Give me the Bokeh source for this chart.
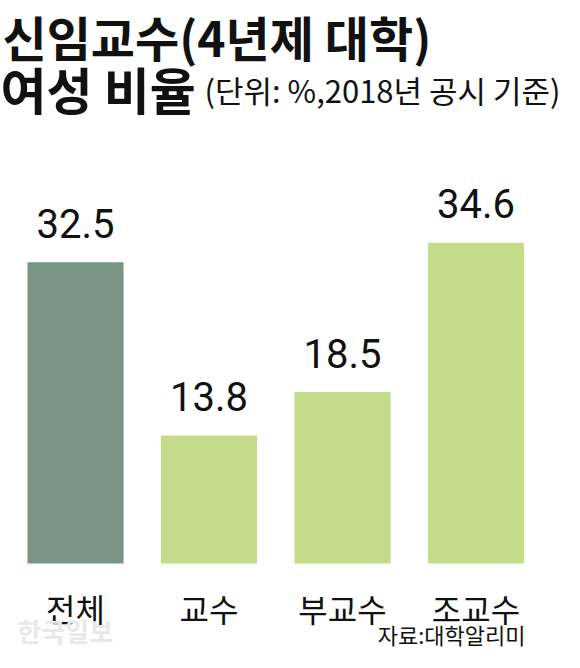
from bokeh.plotting import figure
from bokeh.models import ColumnDataSource, Label, Range1d
from bokeh.core.properties import value
from bokeh.transform import factor_cmap
from bokeh.embed import file_html
from bokeh.resources import INLINE

# data
categories = ["전체", "교수", "부교수", "조교수"]
values = [32.5, 13.8, 18.5, 34.6]
value_labels = ["32.5", "13.8", "18.5", "34.6"]

title_line1 = "신임교수(4년제 대학)"
title_line2 = "여성 비율"
subtitle = "(단위: %,2018년 공시 기준)"
source_note = "자료:대학알리미"
watermark = "한국일보"

bar_palette = ["#7a9585", "#c4dc8a", "#c4dc8a", "#c4dc8a"]

KR = "Noto Sans CJK KR"

source = ColumnDataSource(data=dict(
    x=list(range(len(categories))),
    cat=categories,
    val=values,
    label=value_labels,
))

W, H = 564, 652
BASE = 563      # pixel row of the bars' base
PX_X = 133.5    # pixels between bar centres
PX_Y = 9.27     # pixels per percent

p = figure(
    width=W, height=H,
    x_range=Range1d(-75 / PX_X, (W - 75) / PX_X),
    y_range=Range1d(-(H - BASE) / PX_Y, BASE / PX_Y),
    output_backend="svg", toolbar_location=None,
    x_axis_location=None, y_axis_location=None,
    min_border=0,
)
p.grid.visible = False
p.outline_line_color = None
p.background_fill_color = "white"
p.border_fill_color = "white"

p.vbar(x="x", top="val", bottom=0, width=0.72, source=source,
       fill_color=factor_cmap("cat", bar_palette, categories), line_color=None)

# value labels above the bars
p.text(x="x", y="val", text="label", source=source, y_offset=-39,
       text_align="center", text_baseline="alphabetic",
       text_font=value("Roboto"), text_font_size="40px", text_color="#111111")

# category labels under the bars
p.text(x="x", y=0, text="cat", source=source, y_offset=44,
       text_align="center", text_baseline="middle",
       text_font=value(KR), text_font_size="32px", text_color="#111111")

# titles
p.add_layout(Label(x=2, y=H, x_units="screen", y_units="screen", text=title_line1,
                   text_font=KR, text_font_size="48px", text_font_style="bold",
                   text_baseline="top", text_color="#111111"))
p.add_layout(Label(x=0, y=H - 87, x_units="screen", y_units="screen", text=title_line2,
                   text_font=KR, text_font_size="50px", text_font_style="bold",
                   text_baseline="middle", text_color="#111111"))
p.add_layout(Label(x=204, y=H - 89, x_units="screen", y_units="screen", text=subtitle,
                   text_font=KR, text_font_size="31px",
                   text_baseline="middle", text_color="#111111"))

# source note and faint watermark
p.add_layout(Label(x=525, y=3, x_units="screen", y_units="screen", text=source_note,
                   text_font=KR, text_font_size="22px", text_align="right",
                   text_baseline="bottom", text_color="#111111"))
p.add_layout(Label(x=17, y=H - 630, x_units="screen", y_units="screen", text=watermark,
                   text_font=KR, text_font_size="26px", text_font_style="bold",
                   text_baseline="middle", text_color="#e8e8e8"))

open("out.html", "w").write(file_html(p, INLINE))
